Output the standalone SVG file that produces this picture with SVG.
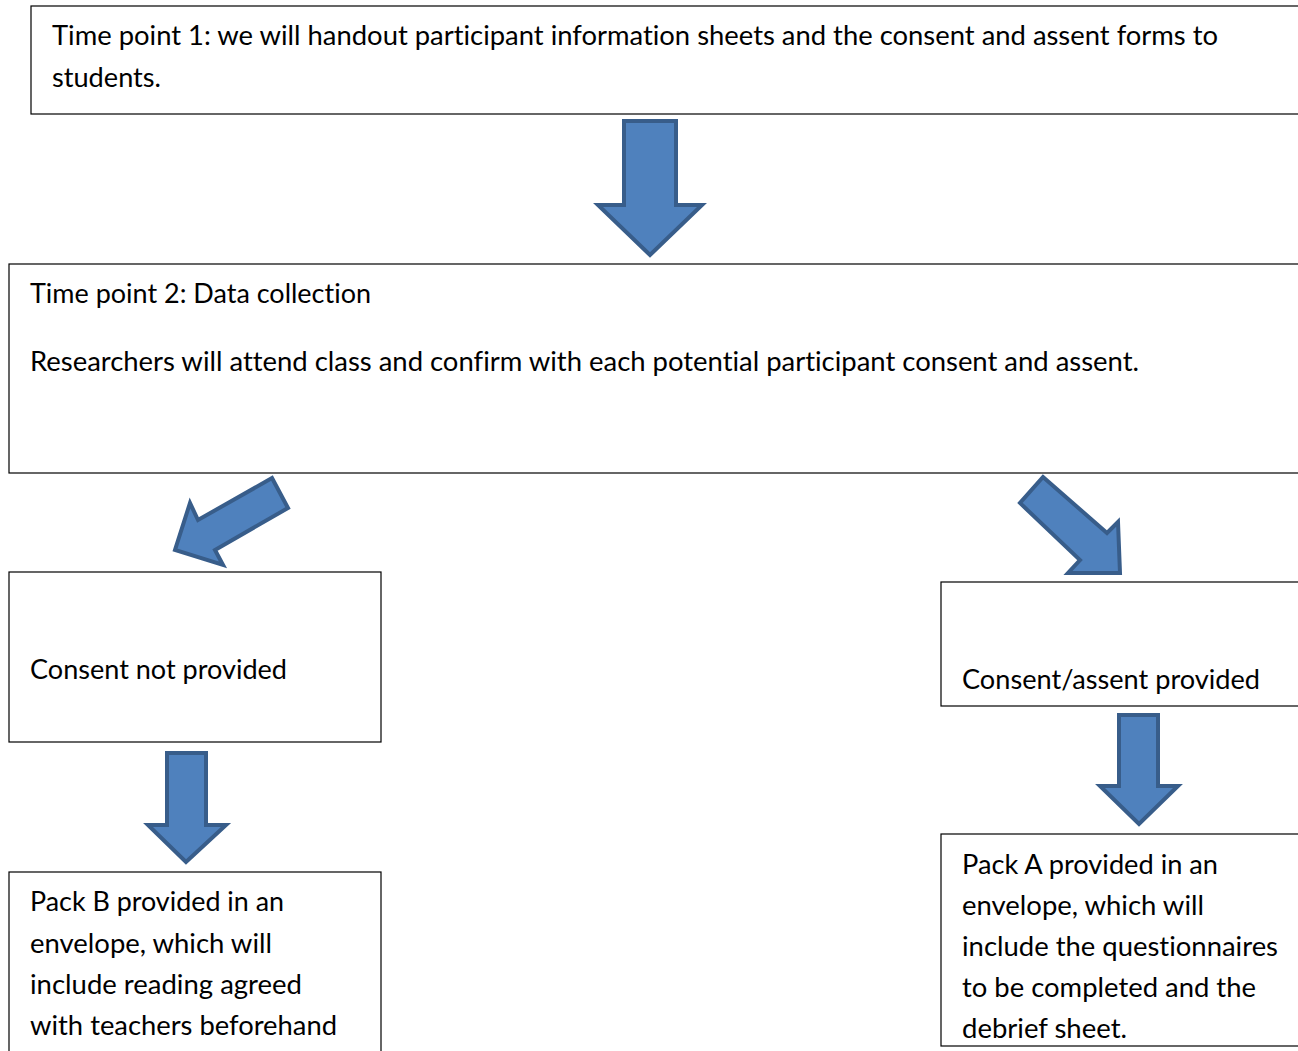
<svg xmlns="http://www.w3.org/2000/svg" width="1298" height="1051" viewBox="0 0 1298 1051">
<style>
.box{fill:#fff;stroke:#000;stroke-width:1.2}
.arrow{fill:#4f81bd;stroke:#385d8a;stroke-width:4;stroke-linejoin:miter}
text{font-family:Lato,"Open Sans",sans-serif;font-size:27px;fill:#000;font-variant-ligatures:none;font-feature-settings:"liga" 0,"clig" 0,"dlig" 0}
</style>
<rect width="1298" height="1051" fill="#fff"/>
<g id="tp1">
<rect class="box" x="31" y="6" width="1290" height="108"/>
<text x="52" y="45" textLength="1166" lengthAdjust="spacingAndGlyphs">Time point 1: we will handout participant information sheets and the consent and assent forms to</text>
<text x="52" y="87" textLength="109" lengthAdjust="spacingAndGlyphs">students.</text>
</g>
<g id="tp2">
<rect class="box" x="9" y="264" width="1310" height="209"/>
<text x="30" y="303" textLength="341" lengthAdjust="spacingAndGlyphs">Time point 2: Data collection</text>
<text x="30" y="371" textLength="1109" lengthAdjust="spacingAndGlyphs">Researchers will attend class and confirm with each potential participant consent and assent.</text>
</g>
<g id="notprovided">
<rect class="box" x="9" y="572" width="372" height="170"/>
<text x="30" y="679" textLength="257" lengthAdjust="spacingAndGlyphs">Consent not provided</text>
</g>
<g id="provided">
<rect class="box" x="941" y="582" width="380" height="124"/>
<text x="962" y="689" textLength="298" lengthAdjust="spacingAndGlyphs">Consent/assent provided</text>
</g>
<g id="packB">
<rect class="box" x="9" y="872" width="372" height="200"/>
<text x="30" y="911" textLength="254" lengthAdjust="spacingAndGlyphs">Pack B provided in an</text>
<text x="30" y="953" textLength="242" lengthAdjust="spacingAndGlyphs">envelope, which will</text>
<text x="30" y="994" textLength="272" lengthAdjust="spacingAndGlyphs">include reading agreed</text>
<text x="30" y="1035" textLength="307" lengthAdjust="spacingAndGlyphs">with teachers beforehand</text>
</g>
<g id="packA">
<rect class="box" x="941" y="834" width="380" height="212"/>
<text x="962" y="874" textLength="256" lengthAdjust="spacingAndGlyphs">Pack A provided in an</text>
<text x="962" y="915" textLength="242" lengthAdjust="spacingAndGlyphs">envelope, which will</text>
<text x="962" y="956" textLength="316" lengthAdjust="spacingAndGlyphs">include the questionnaires</text>
<text x="962" y="997" textLength="294" lengthAdjust="spacingAndGlyphs">to be completed and the</text>
<text x="962" y="1038" textLength="165" lengthAdjust="spacingAndGlyphs">debrief sheet.</text>
</g>
<g id="connectors">
<polygon class="arrow" points="624,121 676,121 676,205 702,205 650,255 598,205 624,205"/>
<polygon class="arrow" points="272,478 288,508 215,550 223,565 175,550 190,503 198,520"/>
<polygon class="arrow" points="1043,477 1107,533 1118,522 1120,573 1068,573 1080,560 1020,503"/>
<polygon class="arrow" points="167,753 206,753 206,825 226,825 186,862 148,825 167,825"/>
<polygon class="arrow" points="1119,715 1158,715 1158,786 1178,786 1139,824 1100,786 1119,786"/>
</g>
</svg>
